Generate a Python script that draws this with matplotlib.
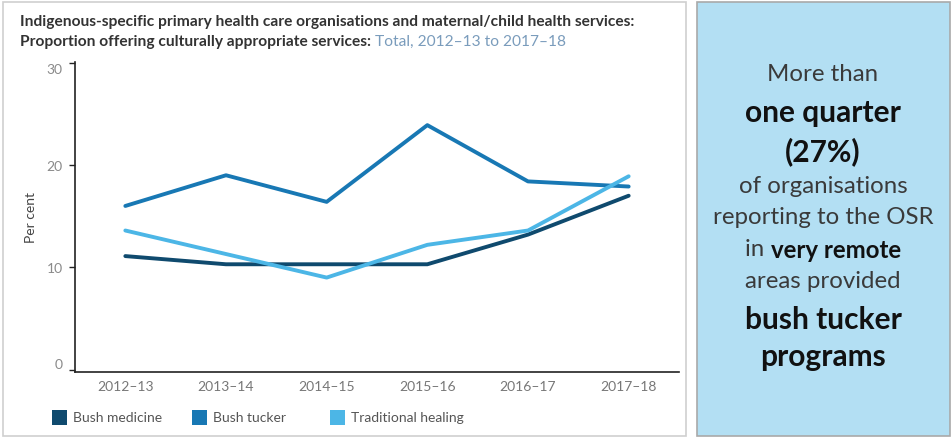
import matplotlib.pyplot as plt
from matplotlib.patches import Rectangle

# Proportion of organisations offering each service, per reporting year
years = ['2012–13', '2013–14', '2014–15', '2015–16', '2016–17', '2017–18']
bush_medicine = [11.1, 10.3, 10.3, 10.3, 13.2, 17.0]
bush_tucker = [16.0, 19.0, 16.4, 23.9, 18.4, 17.9]
traditional_healing = [13.6, 11.3, 9.0, 12.2, 13.6, 18.9]

series_names = ['Bush medicine', 'Bush tucker', 'Traditional healing']
series_values = [bush_medicine, bush_tucker, traditional_healing]
series_colors = ['#0f4a6e', '#1878b4', '#4cb6e6']

y_ticks = [0, 10, 20, 30]

W, H = 953, 439
FONT = 'Lato'

fig = plt.figure(figsize=(W / 100, H / 100), dpi=100)
fig.patch.set_facecolor('white')


def px(x, y):
    # pixel coords (from top-left) to figure fraction
    return x / W, 1 - y / H


# panel frames
fig.patches.append(Rectangle(px(3, 437), 683 / W, 434 / H, transform=fig.transFigure,
                             facecolor='white', edgecolor='#cfcfcf', lw=1.2, zorder=-2))
fig.patches.append(Rectangle(px(697, 437), 253 / W, 434 / H, transform=fig.transFigure,
                             facecolor='#b3dff3', edgecolor='#a9a9a9', lw=1.2, zorder=-2))

# main line chart
ax = fig.add_axes([75 / W, 1 - 372.7 / H, 604 / W, 310 / H])
ax.set_facecolor('none')
x = range(len(years))
for name, vals, col in zip(series_names, series_values, series_colors):
    ax.plot(x, vals, color=col, lw=2.8, solid_capstyle='round', label=name)

ax.set_xlim(-0.5, len(years) - 0.5)
ax.set_ylim(-0.2, 30.1)
for s in ['top', 'right']:
    ax.spines[s].set_visible(False)
for s in ['left', 'bottom']:
    ax.spines[s].set_color('#222222')
    ax.spines[s].set_linewidth(1.2)

ax.set_yticks(y_ticks)
ax.set_yticklabels([str(t) for t in y_ticks], family=FONT, fontsize=10, color='#8a8a8a')
ax.tick_params(axis='y', length=4, width=1, color='#222222', pad=5)
ylabels = ax.get_yticklabels()
ylabels[0].set_va('bottom')
ylabels[-1].set_va('top')

ax.set_xticks(list(x))
ax.set_xticklabels(years, family=FONT, fontsize=10, color='#777777')
ax.tick_params(axis='x', length=0, pad=6)

ax.set_ylabel('Per cent', family=FONT, fontsize=10, color='#444444', labelpad=7)

# title, two lines with a coloured tail on the second
t1 = fig.text(20 / W, 1 - 22 / H,
              'Indigenous-specific primary health care organisations and maternal/child health services:',
              family=FONT, fontsize=11.2, fontweight='bold', color='#333333', va='center')
t2 = fig.text(20 / W, 1 - 42 / H, 'Proportion offering culturally appropriate services: ',
              family=FONT, fontsize=11.2, fontweight='bold', color='#333333', va='center')
fig.canvas.draw()
renderer = fig.canvas.get_renderer()
bb = t2.get_window_extent(renderer)
fig.text(bb.x1 / W, 1 - 42 / H, 'Total, 2012–13 to 2017–18',
         family=FONT, fontsize=11.2, color='#7a9cbc', va='center')

# legend drawn as squares and labels
legend_x = [52, 192, 330]
for lx, name, col in zip(legend_x, series_names, series_colors):
    fig.patches.append(Rectangle(px(lx, 426), 15 / W, 15 / H, transform=fig.transFigure,
                                 facecolor=col, edgecolor='none'))
    fig.text((lx + 21) / W, 1 - 418 / H, name, family=FONT, fontsize=10,
             color='#555555', va='center')

# callout panel text
cx = 823
REG, BIG = 17.3, 21.5
lines = [
    (75, [('More than', 'normal', '#3a3a3a', REG)]),
    (113, [('one quarter', 'bold', '#111111', BIG)]),
    (152, [('(27%)', 'bold', '#111111', BIG)]),
    (187, [('of organisations', 'normal', '#3a3a3a', REG)]),
    (218, [('reporting to the OSR', 'normal', '#3a3a3a', REG)]),
    (250, [('in ', 'normal', '#3a3a3a', REG), ('very remote', 'bold', '#111111', REG)]),
    (282, [('areas provided', 'normal', '#3a3a3a', REG)]),
    (320, [('bush tucker', 'bold', '#111111', BIG)]),
    (357, [('programs', 'bold', '#111111', BIG)]),
]
for ly, parts in lines:
    texts = [fig.text(0, 1 - ly / H, s, family=FONT, fontweight=w, color=c,
                      fontsize=fs, va='center') for s, w, c, fs in parts]
    widths = [t.get_window_extent(renderer).width for t in texts]
    start = cx - sum(widths) / 2
    for t, w in zip(texts, widths):
        t.set_x(start / W)
        start += w

fig.savefig('out.png', dpi=100)
